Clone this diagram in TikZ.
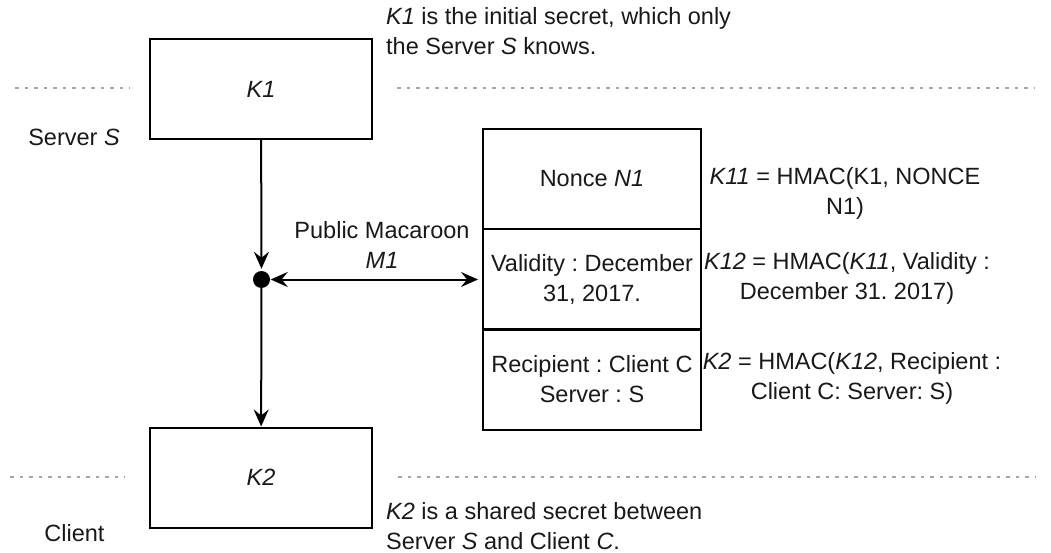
\documentclass[tikz,border=0pt]{standalone}
\usepackage{fontspec}
\setmainfont{Liberation Sans}
\usetikzlibrary{arrows.meta}
\frenchspacing

\begin{document}
\begin{tikzpicture}[x=1pt, y=-1pt,
  every node/.style={font=\fontsize{23.5}{30}\selectfont, text=black!90},
  keybox/.style={draw, line width=2pt, minimum width=222pt, minimum height=100pt, inner sep=0pt},
  cell/.style={draw, line width=2pt, minimum width=218pt, minimum height=100pt, inner sep=0pt, align=center},
  lbl/.style={align=center, inner sep=0pt},
  note/.style={align=left, anchor=west, inner sep=0pt},
  sepline/.style={draw=black!35, line width=1.5pt, dash pattern=on 3.5pt off 6pt},
  flow/.style={line width=2pt, -{Stealth[length=17pt, width=15pt, inset=6pt]}},
  both/.style={line width=2pt, {Stealth[length=17pt, width=15pt, inset=6pt]}-{Stealth[length=17pt, width=15pt, inset=6pt]}}
]
\useasboundingbox (0,0) rectangle (1051,553);

% boundary lines between the server and client zones
\draw[sepline] (15,88) -- (130,88);
\draw[sepline] (397,88) -- (1035,88);
\draw[sepline] (10,477) -- (125,477);
\draw[sepline] (398,477) -- (1035,477);

% zone labels
\node[lbl] (server) at (74,137) {Server \textit{S}};
\node[lbl] (client) at (74.5,533) {Client};

% keys
\node[keybox] (K1) at (261,89) {\textit{K1}};
\node[keybox] (K2) at (261,477.5) {\textit{K2}};

% explanatory notes
\node[note] (n1) at (386,31) {\textit{K1} is the initial secret, which only\\the Server \textit{S} knows.};
\node[note] (n2) at (386,526) {\textit{K2} is a shared secret between\\Server \textit{S} and Client \textit{C}.};

% macaroon caveats
\node[cell] (nonce) at (592,179) {Nonce \textit{N1}};
\node[cell] (valid) at (592,279) {Validity : December\\31, 2017.};
\node[cell] (recip) at (592,379.5) {Recipient : Client C\\Server : S};

% chained HMAC keys
\node[lbl] (h1) at (845,193) {\textit{K11} = HMAC(K1, NONCE\\N1)};
\node[lbl] (h2) at (847,278) {\textit{K12} = HMAC(\textit{K11}, Validity :\\December 31. 2017)};
\node[lbl] (h3) at (852,378) {\textit{K2} = HMAC(\textit{K12}, Recipient :\\Client C: Server: S)};

% junction
\node[circle, fill=black, inner sep=0pt, minimum size=17pt] (dot) at (261.5,279.5) {};

\draw[flow, shorten >=2pt] (K1) -- (dot);
\draw[flow] (dot) -- (K2);
\draw[both, shorten <=0.5pt, shorten >=4pt] (dot) -- (dot -| valid.west);

\node[lbl] (m1) at (382,245) {Public Macaroon\\\textit{M1}};
\end{tikzpicture}
\end{document}
